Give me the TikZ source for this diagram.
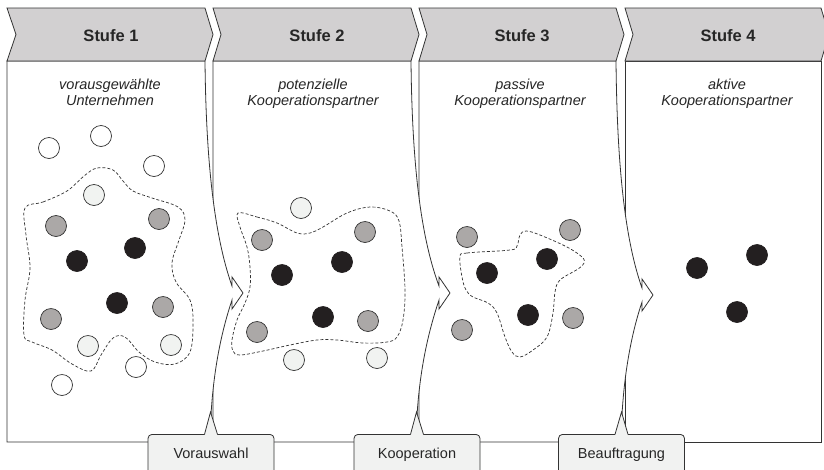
\documentclass[tikz,border=0pt]{standalone}
\usepackage{fontspec}
\setmainfont{Liberation Sans}
\usetikzlibrary{calc}
\definecolor{headfill}{HTML}{D2D0D1}
\definecolor{edge}{HTML}{333333}
\definecolor{ink}{HTML}{262626}
\definecolor{lightdot}{HTML}{F1F3F1}
\definecolor{graydot}{HTML}{ABA8A7}
\definecolor{blackdot}{HTML}{231F20}
\definecolor{tagfill}{HTML}{F1F2F1}
\begin{document}
\begin{tikzpicture}[x=1pt,y=-1pt,
  outline/.style={draw=edge,line width=0.8pt},
  stagebody/.style={outline,fill=white,line join=miter},
  chevron/.style={outline,fill=headfill,line join=miter},
  headtext/.style={font=\fontsize{16.5}{19}\selectfont\bfseries,text=ink,anchor=base,inner sep=0pt},
  subtext/.style={font=\fontsize{14.5}{16}\selectfont\itshape,text=ink,anchor=base,inner sep=0pt},
  tag/.style={outline,fill=tagfill,rounded corners=4pt,minimum width=126pt,minimum height=41pt,
    anchor=north,inner sep=0pt,text height=10pt,text depth=3pt,
    font=\fontsize{14.5}{16}\selectfont,text=ink},
  dot/.style={circle,draw=edge,line width=0.7pt,minimum size=21pt,inner sep=0pt},
  opendot/.style={dot,fill=white},
  paledot/.style={dot,fill=lightdot},
  greydot/.style={dot,fill=graydot},
  darkdot/.style={dot,fill=blackdot,draw=blackdot},
  group/.style={draw=edge,line width=0.7pt,dash pattern=on 3pt off 2pt}
]
\useasboundingbox (0,0) rectangle (824,469);
\clip (0,0) rectangle (824,469);

% stage bodies, right to left, so each bulge covers the next border
\draw[stagebody] (625,61) rectangle (821,442);
\draw[stagebody] (419,61) -- (616,61) .. controls (617,160) and (624,237) .. (642,288)
  -- (642,279) -- (653,295) -- (642,311) -- (642,302)
  .. controls (632,332) and (622,377) .. (621,442) -- (419,442) -- cycle;
\draw[stagebody] (213,61) -- (411,61) .. controls (412,160) and (420,235) .. (439,286)
  -- (439,277) -- (450,293) -- (439,309) -- (439,300)
  .. controls (429,330) and (417,375) .. (416,442) -- (213,442) -- cycle;
\draw[stagebody] (7,61) -- (205,61) .. controls (206,160) and (214,235) .. (232,286)
  -- (232,277) -- (243,293) -- (232,309) -- (232,300)
  .. controls (222,330) and (211,375) .. (210,442) -- (7,442) -- cycle;

% header chevrons
\draw[chevron] (7,8) -- (205,8) -- (213,34.5) -- (205,61) -- (7,61) -- (16,34.5) -- cycle;
\draw[chevron] (213,8) -- (411,8) -- (419,34.5) -- (411,61) -- (213,61) -- (221,34.5) -- cycle;
\draw[chevron] (419,8) -- (616,8) -- (624,34.5) -- (616,61) -- (419,61) -- (427,34.5) -- cycle;
\draw[chevron] (625,8) -- (821,8) -- (829,34.5) -- (821,61) -- (625,61) -- (633,34.5) -- cycle;

\node[headtext] (h1) at (111,41.5) {Stufe 1};
\node[headtext] (h2) at (317,41.5) {Stufe 2};
\node[headtext] (h3) at (522,41.5) {Stufe 3};
\node[headtext] (h4) at (728,41.5) {Stufe 4};

\node[subtext] (s1a) at (110,89) {vorausgewählte};
\node[subtext] (s1b) at (110,105) {Unternehmen};
\node[subtext] (s2a) at (313,89) {potenzielle};
\node[subtext] (s2b) at (313,105) {Kooperationspartner};
\node[subtext] (s3a) at (520,89) {passive};
\node[subtext] (s3b) at (520,105) {Kooperationspartner};
\node[subtext] (s4a) at (727,89) {aktive};
\node[subtext] (s4b) at (727,105) {Kooperationspartner};

% dashed groupings
\draw[group] plot[smooth cycle,tension=0.6] coordinates {
  (25,208) (43,202) (67,191) (84,176) (97,168) (113,170) (123,181) (133,191)
  (152,198) (178,207) (185,220) (179,240) (172,263) (176,282) (190,300) (193,322)
  (190,352) (175,364) (155,362) (139,352) (125,337) (113,338) (101,355) (91,371)
  (72,364) (52,350) (32,342) (24,335) (25,300) (30,268) (26,235)};
\draw[group] plot[smooth cycle,tension=0.6] coordinates {
  (238,213) (257,217) (277,223) (297,233) (310,233) (323,227) (347,213) (370,207)
  (390,211) (399,221) (402,247) (405,290) (403,320) (397,337) (387,342) (363,343)
  (337,340) (317,340) (290,345) (263,351) (240,355) (233,351) (232,340) (237,320)
  (245,303) (250,287) (250,267) (247,247) (240,227)};
\draw[group] plot[smooth cycle,tension=0.6] coordinates {
  (460,257) (467,253) (510,250) (517,246) (520,235) (526,231) (540,235) (567,247)
  (582,257) (584,263) (578,269) (560,280) (555,292) (553,313) (547,337) (533,350)
  (520,357) (512,352) (505,337) (497,313) (488,303) (473,297) (466,290) (462,277)};

% companies
\foreach \px/\py [count=\k] in {49/148,101/136,154/166,136/367,62/385}
  \node[opendot] (open\k) at (\px,\py) {};
\foreach \px/\py [count=\k] in {94/195,88/346,171/345,301/208,294/360,377/358}
  \node[paledot] (pale\k) at (\px,\py) {};
\foreach \px/\py [count=\k] in {56/226,159/219,51/319,163/307,262/240,365/232,257/332,368/321,467/237,570/230,462/330,573/318}
  \node[greydot] (grey\k) at (\px,\py) {};
\foreach \px/\py [count=\k] in {77/261,135/248,117/303,282/275,342/262,323/317,487/273,547/259,528/315,697/268,757/255,737/312}
  \node[darkdot] (dark\k) at (\px,\py) {};

% transition callouts
\coordinate (p1) at (210.5,412);
\coordinate (p2) at (416.5,412);
\coordinate (p3) at (621.5,412);
\node[tag] (t1) at (211,434) {Vorauswahl};
\node[tag] (t2) at (417,434) {Kooperation};
\node[tag] (t3) at (621.5,434) {Beauftragung};
\foreach \t/\p in {t1/p1,t2/p2,t3/p3}{
  \fill[tagfill] ($(\t.north)+(-6.5,1.2)$) -- (\p) -- ($(\t.north)+(6.5,1.2)$) -- cycle;
  \draw[outline,line join=miter] ($(\t.north)+(-6.5,0.4)$) -- (\p) -- ($(\t.north)+(6.5,0.4)$);
}
\end{tikzpicture}
\end{document}
